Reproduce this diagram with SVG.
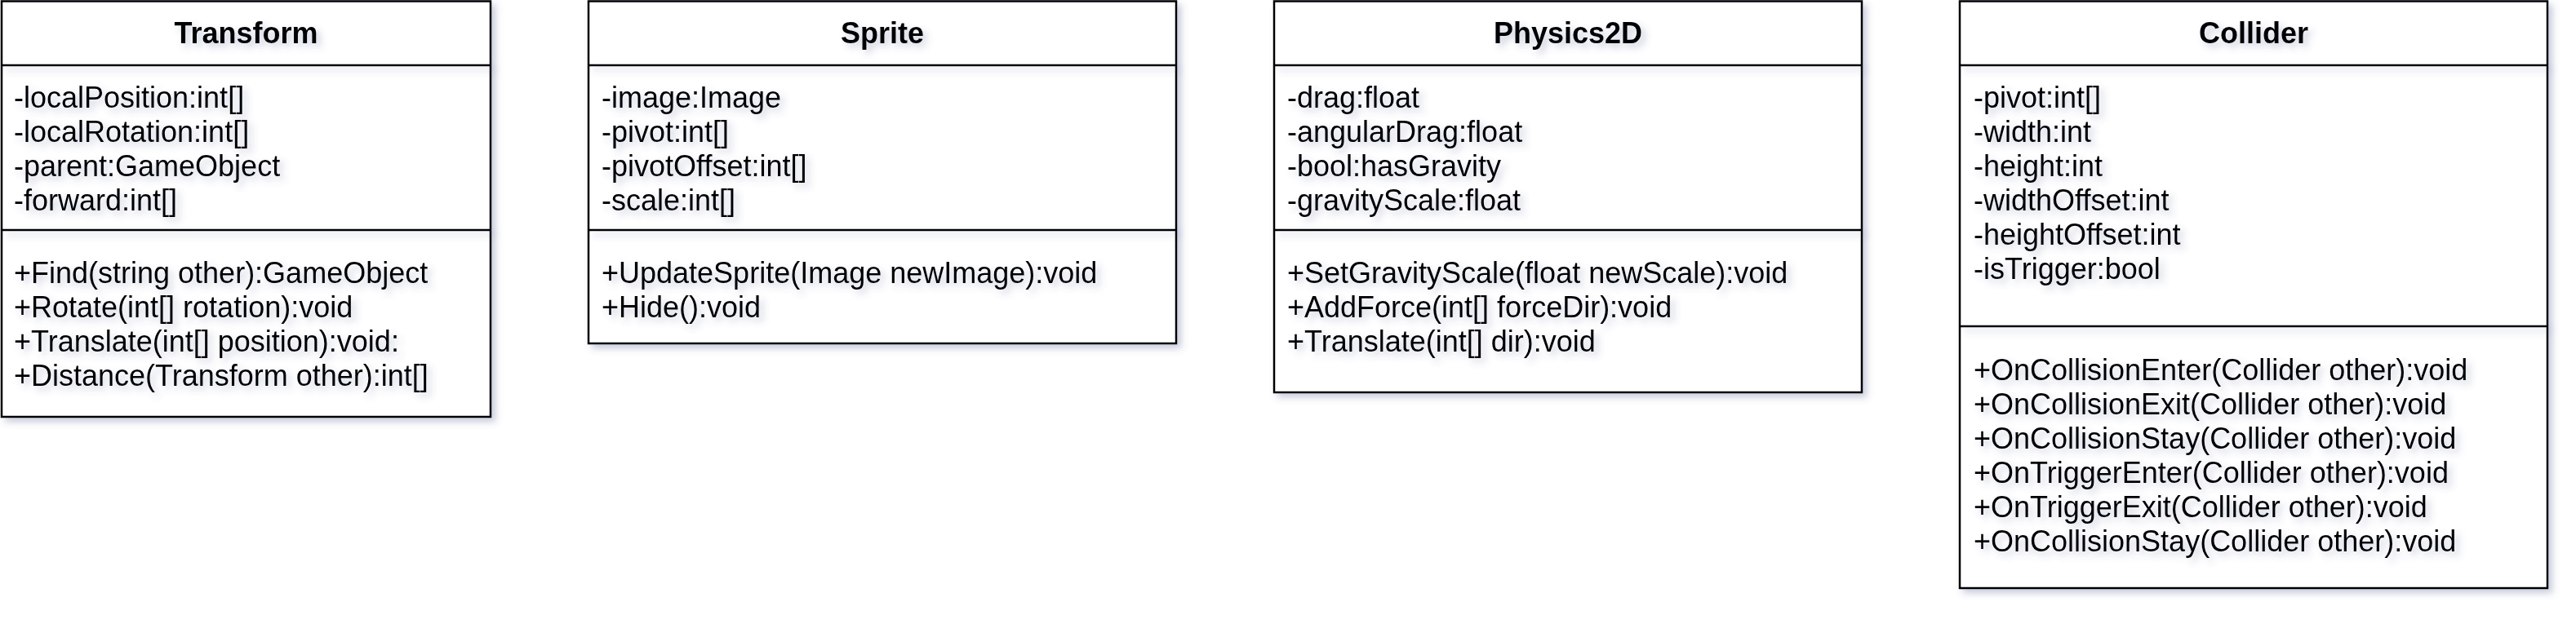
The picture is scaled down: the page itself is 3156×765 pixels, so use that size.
<svg xmlns="http://www.w3.org/2000/svg" width="3156" height="765" viewBox="0 0 3156 765">
<defs>
<filter id="sh" x="-5%" y="-5%" width="115%" height="115%">
<feGaussianBlur in="SourceAlpha" stdDeviation="4"/>
<feOffset dx="5" dy="5" result="b"/>
<feFlood flood-color="#4a5a8a" flood-opacity="0.3"/>
<feComposite in2="b" operator="in"/>
<feMerge><feMergeNode/><feMergeNode in="SourceGraphic"/></feMerge>
</filter>
<style>
.box{fill:#fff;stroke:#000;stroke-width:2.5}
.ln{stroke:#000;stroke-width:2.5}
.t{font-family:"Liberation Sans",Arial,Helvetica,sans-serif;font-size:36px;font-weight:bold;fill:#000;text-anchor:middle}
.m{font-family:"Liberation Sans",Arial,Helvetica,sans-serif;font-size:36px;fill:#000}
</style>
</defs>
<rect width="3156" height="765" fill="#fff"/>
<g id="connectors"/>
<g id="transform">
<rect class="box" x="2" y="1.5" width="599" height="509.5" filter="url(#sh)"/>
<g filter="url(#sh)">
<line class="ln" x1="2" y1="80" x2="601" y2="80"/>
<line class="ln" x1="2" y1="282" x2="601" y2="282"/>
<text class="t" x="301.5" y="53">Transform</text>
<text class="m" x="17" y="132">-localPosition:int[]</text>
<text class="m" x="17" y="174">-localRotation:int[]</text>
<text class="m" x="17" y="216">-parent:GameObject</text>
<text class="m" x="17" y="258">-forward:int[]</text>
<text class="m" x="17" y="347">+Find(string other):GameObject</text>
<text class="m" x="17" y="389">+Rotate(int[] rotation):void</text>
<text class="m" x="17" y="431">+Translate(int[] position):void:</text>
<text class="m" x="17" y="473">+Distance(Transform other):int[]</text>
</g>
</g>
<g id="sprite">
<rect class="box" x="721" y="1.5" width="720" height="419.5" filter="url(#sh)"/>
<g filter="url(#sh)">
<line class="ln" x1="721" y1="80" x2="1441" y2="80"/>
<line class="ln" x1="721" y1="282" x2="1441" y2="282"/>
<text class="t" x="1081" y="53">Sprite</text>
<text class="m" x="737" y="132">-image:Image</text>
<text class="m" x="737" y="174">-pivot:int[]</text>
<text class="m" x="737" y="216">-pivotOffset:int[]</text>
<text class="m" x="737" y="258">-scale:int[]</text>
<text class="m" x="737" y="347">+UpdateSprite(Image newImage):void</text>
<text class="m" x="737" y="389">+Hide():void</text>
</g>
</g>
<g id="physics2d">
<rect class="box" x="1561" y="1.5" width="720" height="479.5" filter="url(#sh)"/>
<g filter="url(#sh)">
<line class="ln" x1="1561" y1="80" x2="2281" y2="80"/>
<line class="ln" x1="1561" y1="282" x2="2281" y2="282"/>
<text class="t" x="1921" y="53">Physics2D</text>
<text class="m" x="1577" y="132">-drag:float</text>
<text class="m" x="1577" y="174">-angularDrag:float</text>
<text class="m" x="1577" y="216">-bool:hasGravity</text>
<text class="m" x="1577" y="258">-gravityScale:float</text>
<text class="m" x="1577" y="347">+SetGravityScale(float newScale):void</text>
<text class="m" x="1577" y="389">+AddForce(int[] forceDir):void</text>
<text class="m" x="1577" y="431">+Translate(int[] dir):void</text>
</g>
</g>
<g id="collider">
<rect class="box" x="2401" y="1.5" width="720" height="719.5" filter="url(#sh)"/>
<g filter="url(#sh)">
<line class="ln" x1="2401" y1="80" x2="3121" y2="80"/>
<line class="ln" x1="2401" y1="400" x2="3121" y2="400"/>
<text class="t" x="2761" y="53">Collider</text>
<text class="m" x="2418" y="132">-pivot:int[]</text>
<text class="m" x="2418" y="174">-width:int</text>
<text class="m" x="2418" y="216">-height:int</text>
<text class="m" x="2418" y="258">-widthOffset:int</text>
<text class="m" x="2418" y="300">-heightOffset:int</text>
<text class="m" x="2418" y="342">-isTrigger:bool</text>
<text class="m" x="2418" y="466">+OnCollisionEnter(Collider other):void</text>
<text class="m" x="2418" y="508">+OnCollisionExit(Collider other):void</text>
<text class="m" x="2418" y="550">+OnCollisionStay(Collider other):void</text>
<text class="m" x="2418" y="592">+OnTriggerEnter(Collider other):void</text>
<text class="m" x="2418" y="634">+OnTriggerExit(Collider other):void</text>
<text class="m" x="2418" y="676">+OnCollisionStay(Collider other):void</text>
</g>
</g>
</svg>
